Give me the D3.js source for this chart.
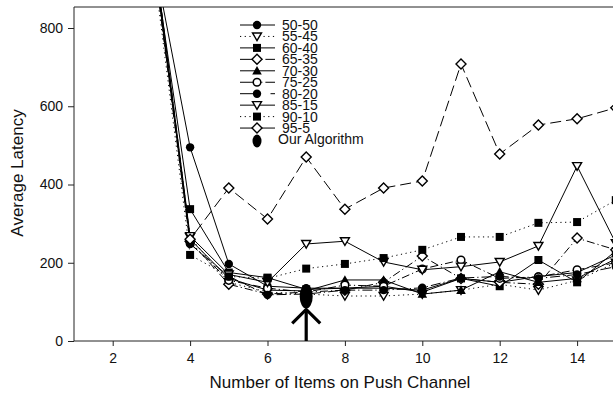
<!DOCTYPE html>
<html><head><meta charset="utf-8">
<script src="https://cdn.jsdelivr.net/npm/d3@7"></script>
<style>body{margin:0;background:#fff}svg{display:block}text{font-family:"Liberation Sans",Arial,sans-serif}</style>
</head><body><svg id="c" width="613" height="394"></svg>
<script>
const xs = [3,4,5,6,7,8,9,10,11,12,13,14,15];
const seriesNames = ["50-50","55-45","60-40","65-35","70-30","75-25","80-20","85-15","90-10","95-5"];
const s5050 = [1010,495,197,140,135,135,140,125,160,150,165,175,220];
const s5545 = [1040,265,150,125,120,115,115,120,130,145,130,155,200];
const s6040 = [1020,337,175,162,132,135,135,130,160,140,207,150,230];
const s6535 = [1030,255,145,120,125,130,150,217,160,150,145,263,233];
const s7030 = [1025,260,160,130,128,156,156,120,130,177,150,160,210];
const s7525 = [1015,250,155,135,125,143,140,184,207,160,164,182,200];
const s8020 = [1035,248,165,118,120,130,130,136,161,165,160,170,190];
const s8515 = [1045,268,170,150,248,255,202,182,190,202,243,447,250];
const s9010 = [1000,220,165,160,185,197,212,233,266,266,302,304,360];
const s955  = [1050,260,391,312,470,337,391,409,708,478,552,568,596];
const ourAlgo = {label:"Our Algorithm", x:7, y:114};
const xTicks = [2,4,6,8,10,12,14];
const yTicks = [0,200,400,600,800];

const values = [s5050,s5545,s6040,s6535,s7030,s7525,s8020,s8515,s9010,s955];
const markers = ["circleF","triDownO","squareF","diamondO","triUpF","circleO","circleF","triDownO","squareF","diamondO"];
const dashes = [null,"1.2,3.5",null,"8,3,1.2,3",null,
                "8,3,1.2,3","10,3,1.2,3",null,"1.2,3.5","11,5"];
const legendDashes = [null,"1.2,3.5",null,"14,3,1.2,3,1.2,3",null,"14,3,1.2,3,1.2,3","16,3,1.5,10",null,"1.2,3.5",null];

const svg = d3.select("#c");
const L=74, R=613, T=7, B=341;
const x = d3.scaleLinear().domain([1,15]).range([L, L+14*38.7]);
const y = d3.scaleLinear().domain([0,800]).range([B, B-313]);

svg.append("defs").append("clipPath").attr("id","pc")
  .append("rect").attr("x",L).attr("y",T).attr("width",R-L+10).attr("height",B-T);

const gx = svg.append("g").attr("transform",`translate(0,${B})`)
  .call(d3.axisBottom(x).tickValues(xTicks).tickSize(5).tickPadding(7).tickSizeOuter(0));
const gy = svg.append("g").attr("transform",`translate(${L},0)`)
  .call(d3.axisLeft(y).tickValues(yTicks).tickSize(6).tickPadding(5).tickSizeOuter(0));
[gx,gy].forEach(g=>{
  g.select(".domain").remove();
  g.selectAll("line").attr("stroke","#222");
  g.selectAll("text").attr("font-size",14).attr("fill","#111");
});
svg.append("line").attr("x1",L).attr("x2",R).attr("y1",B).attr("y2",B).attr("stroke","#222");
svg.append("line").attr("x1",L).attr("x2",L).attr("y1",T).attr("y2",B).attr("stroke","#222");
svg.append("line").attr("x1",L).attr("x2",R).attr("y1",T).attr("y2",T).attr("stroke","#222");

svg.append("text").attr("x",340).attr("y",388).attr("text-anchor","middle")
  .attr("font-size",17).attr("fill","#111").text("Number of Items on Push Channel");
svg.append("text").attr("transform",`translate(23,${173}) rotate(-90)`).attr("text-anchor","middle")
  .attr("font-size",17).attr("fill","#111").text("Average Latency");

function drawMarker(g, type, cx, cy){
  const sw=1.2;
  if(type==="circleF") g.append("circle").attr("cx",cx).attr("cy",cy).attr("r",4.2).attr("fill","#000");
  else if(type==="circleO") g.append("circle").attr("cx",cx).attr("cy",cy).attr("r",3.8).attr("fill","#fff").attr("stroke","#000").attr("stroke-width",sw+0.3);
  else if(type==="squareF") g.append("rect").attr("x",cx-4).attr("y",cy-4).attr("width",8).attr("height",8).attr("fill","#000");
  else if(type==="triDownO") g.append("path").attr("d",`M${cx-4.5},${cy-3.5}L${cx+4.5},${cy-3.5}L${cx},${cy+4.2}Z`).attr("fill","#fff").attr("stroke","#000").attr("stroke-width",sw+0.2);
  else if(type==="triUpF") g.append("path").attr("d",`M${cx-4.8},${cy+3.8}L${cx+4.8},${cy+3.8}L${cx},${cy-4.8}Z`).attr("fill","#000");
  else if(type==="diamondO") g.append("path").attr("d",`M${cx},${cy-5}L${cx+5},${cy}L${cx},${cy+5}L${cx-5},${cy}Z`).attr("fill","#fff").attr("stroke","#000").attr("stroke-width",sw+0.2);
}

const plot = svg.append("g").attr("clip-path","url(#pc)");
const line = d3.line().x((d,i)=>x(xs[i])).y(d=>y(d));
values.forEach((vals,k)=>{
  const p = plot.append("path").attr("d",line(vals)).attr("fill","none").attr("stroke","#000").attr("stroke-width",1);
  if(dashes[k]) p.attr("stroke-dasharray",dashes[k]);
});
values.forEach((vals,k)=>{
  vals.forEach((v,i)=>drawMarker(plot, markers[k], x(xs[i]), y(v)));
});

const ax = x(ourAlgo.x), ay = y(ourAlgo.y);
plot.append("ellipse").attr("cx",ax).attr("cy",ay).attr("rx",6.5).attr("ry",12).attr("fill","#000");
const tip = ay+13;
svg.append("line").attr("x1",ax).attr("x2",ax).attr("y1",tip).attr("y2",B).attr("stroke","#000").attr("stroke-width",3.2);
svg.append("path").attr("d",`M${ax-14},${tip+14}L${ax},${tip}L${ax+14},${tip+14}`).attr("fill","none").attr("stroke","#000").attr("stroke-width",3.2);

const lg = svg.append("g");
const lx0=240, lx1=275, mx=257, tx=282, ly0=25, dy=11.45;
seriesNames.forEach((n,k)=>{
  const yy = ly0 + k*dy;
  const ln = lg.append("line").attr("x1",lx0).attr("x2",lx1).attr("y1",yy).attr("y2",yy).attr("stroke","#000").attr("stroke-width",1);
  if(legendDashes[k]) ln.attr("stroke-dasharray", legendDashes[k]);
  drawMarker(lg, markers[k], mx, yy);
  lg.append("text").attr("x",tx).attr("y",yy+5).attr("font-size",14).attr("fill","#111").text(n);
});
const oy = ly0 + 10*dy + 1.5;
lg.append("ellipse").attr("cx",mx).attr("cy",oy).attr("rx",4.5).attr("ry",6.5).attr("fill","#000");
lg.append("text").attr("x",tx-4).attr("y",oy+3).attr("font-size",14).attr("fill","#111").text(ourAlgo.label);
</script></body></html>
